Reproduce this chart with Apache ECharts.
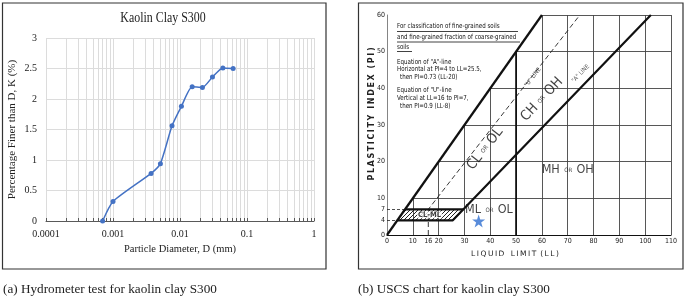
<!DOCTYPE html>
<html>
<head>
<meta charset="utf-8">
<script src="https://cdn.jsdelivr.net/npm/echarts@6/dist/echarts.min.js"></script>
<style>
  html, body { margin: 0; padding: 0; background: #fff; }
  #main { width: 685px; height: 299px; }
</style>
</head>
<body>
<div id="main"></div>
<script>
// (a) hydrometer test
const diameters = [0.0007, 0.001, 0.0037, 0.0051, 0.0076, 0.0105, 0.0152, 0.0216, 0.0305, 0.0436, 0.0621];
const percentFiner = [0, 0.32, 0.78, 0.94, 1.56, 1.88, 2.2, 2.19, 2.36, 2.51, 2.5];
const decadeLabels = [0.0001, 0.001, 0.01, 0.1, 1];

// (b) USCS plasticity chart
const llTicks = [0, 10, 16, 20, 30, 40, 50, 60, 70, 80, 90, 100, 110];
const piTicks = [0, 4, 7, 10, 20, 30, 40, 50, 60];
const limitLine = [[0, 0], [60, 60]];              // PI = LL
const aLine = [[4, 4], [25.5, 4], [102.2, 60]];    // A-line
const uLine = [[16, 0], [16, 7], [74.7, 60]];      // U-line
const llFifty = [[50, 0], [50, 50]];
const clmlTop = [[7, 7], [29.6, 7]];
const clmlZone = [[4, 4], [25.5, 4], [29.6, 7], [7, 7]];
const sample = [[35.5, 3.8]];

const serif = "'Liberation Serif', 'Times New Roman', serif";
const narrow = "'Liberation Sans Narrow', 'DejaVu Sans Condensed', 'Liberation Sans', sans-serif";
const sans = "'DejaVu Sans', sans-serif";

// minor log ticks 1..9 per decade
const logTicks = [];
decadeLabels.forEach((d, i) => {
  if (i === decadeLabels.length - 1) { logTicks.push(d); return; }
  for (let k = 1; k <= 9; k++) logTicks.push(+(k * d).toPrecision(3));
});

const llMax = llTicks[llTicks.length - 1];
const piMax = piTicks[piTicks.length - 1];
const gridSeg = [];
llTicks.filter(v => v % 10 === 0 && v > 0).forEach(v => {
  gridSeg.push({ coords: [[v, 0], [v, Math.min(v, piMax)]] });
});
piTicks.filter(v => v % 10 === 0 && v > 0).forEach(v => {
  gridSeg.push({ coords: [[v, v], [llMax, v]] });
});
const guideSeg = [
  { coords: [[0, 7], [7, 7]] },
  { coords: [[0, 4], [4, 4]] }
];

// hatch pattern for CL-ML zone
const pat = document.createElement('canvas');
pat.width = 4; pat.height = 4;
const pc = pat.getContext('2d');
pc.strokeStyle = '#222';
pc.lineWidth = 1;
pc.beginPath();
pc.moveTo(0, 4); pc.lineTo(4, 0);
pc.moveTo(-1, 1); pc.lineTo(1, -1);
pc.moveTo(3, 5); pc.lineTo(5, 3);
pc.stroke();

const chart = echarts.init(document.getElementById('main'), null, { renderer: 'canvas' });

const thick = (data, w) => ({
  type: 'line', xAxisIndex: 1, yAxisIndex: 1, data: data,
  showSymbol: false, silent: true,
  lineStyle: { color: '#111', width: w || 2.2 }, z: 4
});

const richOr = (big) => ({
  b: { fontFamily: narrow, fontSize: big, color: '#111' },
  s: { fontFamily: narrow, fontSize: 6, color: '#111', padding: [0, 1, 0, 1] }
});

// small hand-lettered notes, top left of panel (b)
const note = (text, x, y) => ({
  type: 'text', x: x, y: y, scaleX: 0.88,
  style: { text: text, fontFamily: narrow, fontSize: 7, fill: '#111', align: 'left', verticalAlign: 'middle' }
});

chart.setOption({
  animation: false,
  grid: [
    { left: 46, top: 38, width: 268, height: 183 },
    { left: 387, top: 15, width: 284, height: 220 }
  ],
  xAxis: [
    {
      gridIndex: 0, type: 'log', logBase: 10, min: 0.0001, max: 1,
      axisLine: { lineStyle: { color: '#595959', width: 1 } },
      axisTick: { show: true, inside: true, length: 3, customValues: logTicks, lineStyle: { color: '#595959' } },
      axisLabel: { customValues: decadeLabels, formatter: v => String(v), fontFamily: serif, fontSize: 10, color: '#222', margin: 8 },
      splitLine: { show: true, lineStyle: { color: '#dcdcdc', width: 1 } },
      name: 'Particle Diameter, D (mm)', nameLocation: 'middle', nameGap: 23,
      nameTextStyle: { fontFamily: serif, fontSize: 10.5, color: '#222' }
    },
    {
      gridIndex: 1, type: 'value', min: 0, max: llMax,
      axisLine: { lineStyle: { color: '#111', width: 1.2 } },
      axisTick: { show: false },
      axisLabel: { customValues: llTicks, fontFamily: narrow, fontSize: 7, color: '#222', margin: 3 },
      splitLine: { show: false }
    }
  ],
  yAxis: [
    {
      gridIndex: 0, type: 'value', min: 0, max: 3, interval: 0.5,
      axisLine: { show: false }, axisTick: { show: false },
      axisLabel: { fontFamily: serif, fontSize: 10, color: '#222', margin: 9 },
      splitLine: { show: true, lineStyle: { color: '#dcdcdc', width: 1 } },
      name: 'Percentage Finer than D, K (%)', nameLocation: 'middle', nameGap: 28,
      nameTextStyle: { fontFamily: serif, fontSize: 11, color: '#222' }
    },
    {
      gridIndex: 1, type: 'value', min: 0, max: piMax,
      axisLine: { show: true, lineStyle: { color: '#666', width: 0.8 } },
      axisTick: { show: false },
      axisLabel: { customValues: piTicks, fontFamily: narrow, fontSize: 7, color: '#222', margin: 2 },
      splitLine: { show: false }
    }
  ],
  series: [
    {
      type: 'line', xAxisIndex: 0, yAxisIndex: 0,
      data: diameters.map((d, i) => [d, percentFiner[i]]),
      smooth: 0.2, symbol: 'circle', symbolSize: 5,
      itemStyle: { color: '#4472C4' },
      lineStyle: { color: '#4472C4', width: 1.5 }
    },
    {
      type: 'lines', coordinateSystem: 'cartesian2d', xAxisIndex: 1, yAxisIndex: 1,
      data: gridSeg, silent: true, z: 2,
      lineStyle: { color: '#444', width: 0.9, opacity: 1 }
    },
    {
      type: 'lines', coordinateSystem: 'cartesian2d', xAxisIndex: 1, yAxisIndex: 1,
      data: guideSeg, silent: true, z: 2,
      lineStyle: { color: '#222', width: 0.8, type: [3, 2], opacity: 1 }
    },
    {
      type: 'custom', xAxisIndex: 1, yAxisIndex: 1, silent: true, z: 3,
      data: [[0, 0]],
      renderItem: (params, api) => ({
        type: 'polygon',
        shape: { points: clmlZone.map(p => api.coord(p)) },
        style: { fill: { image: pat, repeat: 'repeat' }, stroke: null }
      })
    },
    {
      type: 'line', xAxisIndex: 1, yAxisIndex: 1, data: uLine,
      showSymbol: false, silent: true, z: 3,
      lineStyle: { color: '#222', width: 0.9, type: [5, 3] }
    },
    thick(limitLine),
    thick(aLine),
    thick(clmlTop),
    thick(llFifty, 1.8),
    {
      type: 'scatter', xAxisIndex: 1, yAxisIndex: 1, silent: true, z: 6,
      symbolSize: 0,
      data: [
        { value: [16.5, 5.5], label: { formatter: 'CL-ML', fontFamily: narrow, fontSize: 7.5, fontWeight: 'bold', backgroundColor: '#fff', padding: [0, 1, -1, 1] } },
        { value: [38, 23.5], label: { formatter: '{b|CL} {s|OR} {b|OL}', rotate: 52, rich: richOr(14) } },
        { value: [60, 37], label: { formatter: '{b|CH} {s|OR} {b|OH}', rotate: 47, rich: richOr(14) } },
        { value: [70, 17.7], label: { formatter: '{b|MH} {s|OR} {b|OH}', rich: richOr(12.5) } },
        { value: [39.5, 6.8], label: { formatter: '{b|ML} {s|OR} {b|OL}', rich: richOr(12.5) } },
        { value: [56.5, 43], label: { formatter: '"U" LINE', rotate: 52, fontFamily: narrow, fontSize: 6, color: '#222' } },
        { value: [75, 44], label: { formatter: '"A" LINE', rotate: 46, fontFamily: narrow, fontSize: 6, color: '#222' } }
      ],
      label: { show: true, position: 'inside', color: '#111' }
    },
    {
      type: 'scatter', xAxisIndex: 1, yAxisIndex: 1, z: 7,
      data: sample, symbol: 'path://M50,0 L61.8,35.5 L99,35.5 L69,57.5 L80.5,93 L50,71 L19.5,93 L31,57.5 L1,35.5 L38.2,35.5 Z',
      symbolSize: 13, itemStyle: { color: '#2f6fd1' }
    }
  ],
  graphic: [
    { type: 'rect', shape: { x: 2.5, y: 3, width: 323.5, height: 266 }, style: { fill: null, stroke: '#333', lineWidth: 1.2 }, silent: true },
    { type: 'rect', shape: { x: 358.5, y: 3, width: 324.5, height: 266 }, style: { fill: null, stroke: '#333', lineWidth: 1.2 }, silent: true },
    { type: 'text', x: 163, y: 18, scaleX: 0.85, style: { text: 'Kaolin Clay S300', fontFamily: serif, fontSize: 14, fill: '#222', align: 'center', verticalAlign: 'middle' } },
    { type: 'text', x: 3, y: 290, style: { text: '(a) Hydrometer test for kaolin clay S300', fontFamily: serif, fontSize: 13.2, fill: '#222', align: 'left', verticalAlign: 'middle' } },
    { type: 'text', x: 358, y: 290, style: { text: '(b) USCS chart for kaolin clay S300', fontFamily: serif, fontSize: 13.2, fill: '#222', align: 'left', verticalAlign: 'middle' } },
    { type: 'text', x: 515, y: 254, style: { text: 'L I Q U I D   L I M I T  ( L L )'.replace(/ (?! )/g, '\u2009'), fontFamily: sans, fontSize: 7.5, fill: '#222', align: 'center', verticalAlign: 'middle' } },
    { type: 'text', x: 372, y: 114, rotation: Math.PI / 2, style: { text: 'PLASTICITY INDEX (PI)'.split('').join('\u2009'), fontFamily: sans, fontSize: 8, fontWeight: 'bold', fill: '#222', align: 'center', verticalAlign: 'middle' } },
    note('For classification of fine-grained soils', 397, 26.5),
    note('and fine-grained fraction of coarse-grained', 397, 37.5),
    note('soils', 397, 47.5),
    { type: 'line', shape: { x1: 397, y1: 31.5, x2: 518, y2: 31.5 }, style: { stroke: '#111', lineWidth: 0.8 } },
    { type: 'line', shape: { x1: 397, y1: 42, x2: 520, y2: 42 }, style: { stroke: '#111', lineWidth: 0.8 } },
    { type: 'line', shape: { x1: 397, y1: 51.5, x2: 412, y2: 51.5 }, style: { stroke: '#111', lineWidth: 0.8 } },
    note('Equation of "A"-line', 397, 62),
    note('Horizontal at PI=4 to LL=25.5,', 397, 69.5),
    note('then PI=0.73 (LL-20)', 400, 77.5),
    note('Equation of "U"-line', 397, 90),
    note('Vertical at LL=16 to PI=7,', 397, 98.5),
    note('then PI=0.9 (LL-8)', 400, 106.5)
  ]
});
</script>
</body>
</html>
